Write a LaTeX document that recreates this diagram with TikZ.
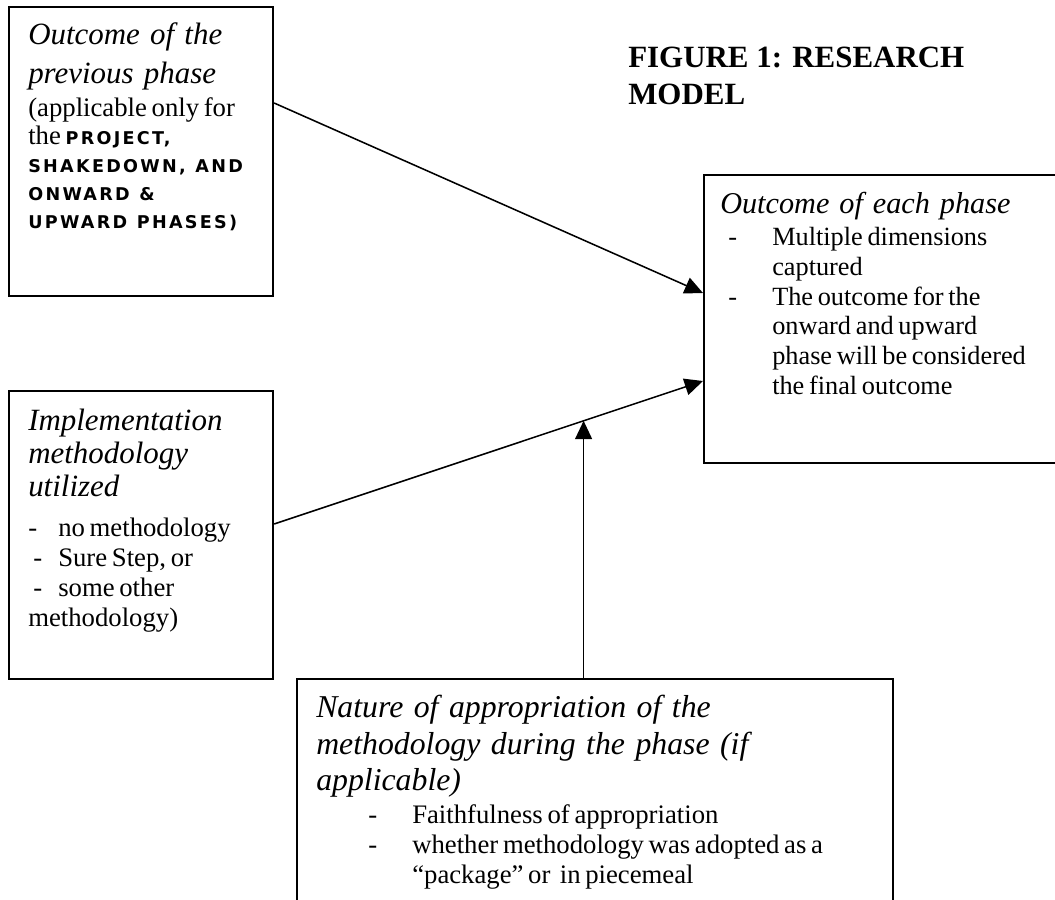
\documentclass[tikz,border=0pt]{standalone}
\usepackage{fontspec}
\setmainfont{Liberation Serif}
\newfontfamily\capsfont[LetterSpace=13]{DejaVu Sans}
\usetikzlibrary{arrows.meta,positioning}
\newlength\pxu
\setlength\pxu{0.025cm}
\newcommand{\headtext}[3]{{\fontsize{#1}{#2}\selectfont\itshape\spaceskip=0.33em plus 0.1em minus 0.05em #3\par}}
\newcommand{\phasecaps}[1]{{\capsfont\bfseries\fontsize{12.5}{20}\selectfont\spaceskip=0.55em #1}}
\tikzset{
  modelbox/.style  = {draw=black, line width=1.5pt, anchor=north west, inner sep=0pt},
  boxtext/.style   = {anchor=north west, inner sep=0pt, align=left, text width=#1},
  boxtext/.default = 250\pxu,
  link/.style      = {line width=1.1pt, -{Triangle[length=13pt, width=12pt]}}
}
\begin{document}
\begin{tikzpicture}[x=0.025cm, y=-0.025cm]
\useasboundingbox (0,0) rectangle (1055,900);
\clip (0,0) rectangle (1055,900);
% boxes
\node (prevphase) [modelbox, minimum width=264\pxu, minimum height=289\pxu] at (8,6) {};
\node (method) [modelbox, minimum width=264\pxu, minimum height=288\pxu] at (8,390) {};
\node (eachphase) [modelbox, minimum width=420\pxu, minimum height=288\pxu] at (703,174) {};
\node (appropriation) [modelbox, minimum width=596\pxu, minimum height=260\pxu] at (296,678) {};
% texts
\node (prevtext) [boxtext] at ([xshift=20\pxu, yshift=-16\pxu]prevphase.north west) {%
  \headtext{22}{27.7}{Outcome of the\\previous phase}
  \vspace{5\pxu}
  {\fontsize{19}{20}\selectfont (applicable only for\\the \phasecaps{PROJECT,}\\\phasecaps{SHAKEDOWN, AND}\\\phasecaps{ONWARD \&}\\\phasecaps{UPWARD PHASES)}\par}};
\node (methodtext) [boxtext] at ([xshift=20\pxu, yshift=-19\pxu]method.north west) {%
  \headtext{22}{23.5}{Implementation\\methodology\\utilized}
  \vspace{9\pxu}
  {\fontsize{19}{21.5}\selectfont
  \makebox[30\pxu][l]{-}no methodology\\
  \hspace*{5\pxu}\makebox[25\pxu][l]{-}Sure Step, or\\
  \hspace*{5\pxu}\makebox[25\pxu][l]{-}some other\\
  methodology)\par}};
\node (eachtext) [boxtext=330\pxu] at ([xshift=17\pxu, yshift=-18\pxu]eachphase.north west) {%
  \headtext{21.5}{25}{Outcome of each phase}
  \vspace{2\pxu}
  {\fontsize{18.7}{21.2}\selectfont
  \makebox[52\pxu][l]{\hspace{8\pxu}-}Multiple dimensions\\
  \hspace*{52\pxu}captured\\
  \makebox[52\pxu][l]{\hspace{8\pxu}-}The outcome for the\\
  \hspace*{52\pxu}onward and upward\\
  \hspace*{52\pxu}phase will be considered\\
  \hspace*{52\pxu}the final outcome\par}};
\node (appropriationtext) [boxtext=560\pxu] at ([xshift=20\pxu, yshift=-17\pxu]appropriation.north west) {%
  \headtext{22.6}{26}{Nature of appropriation of the\\methodology during the phase (if\\applicable)}
  \vspace{3\pxu}
  {\fontsize{19}{21.3}\selectfont
  \makebox[96\pxu][l]{\hspace{52\pxu}-}Faithfulness of appropriation\\
  \makebox[96\pxu][l]{\hspace{52\pxu}-}whether methodology was adopted as a\\
  \hspace*{96\pxu}``package'' or~ in piecemeal\par}};
\node (title) [anchor=north west, inner sep=0pt, align=left, font=\fontsize{22}{26}\selectfont\bfseries] at (628,47) {FIGURE 1: RESEARCH\\MODEL};
% connectors
\draw [link] ([yshift=-97\pxu]prevphase.north east) -- ([yshift=-119\pxu]eachphase.north west);
\draw [link] ([yshift=-134\pxu]method.north east) -- coordinate[pos=0.7216] (meet) ([yshift=-207\pxu]eachphase.north west);
\draw [link] (appropriation.north -| meet) -- (meet);
\end{tikzpicture}
\end{document}
